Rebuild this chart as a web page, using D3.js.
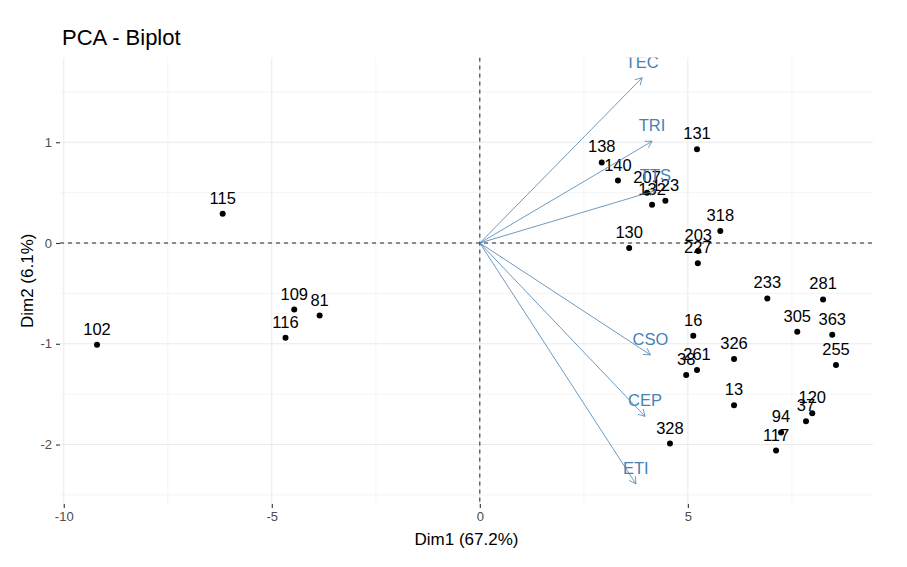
<!DOCTYPE html>
<html>
<head>
<meta charset="utf-8">
<script src="https://cdn.jsdelivr.net/npm/d3@7"></script>
<style>
  html, body { margin: 0; padding: 0; background: #fff; }
  svg { display: block; font-family: "Liberation Sans", Arial, sans-serif; }
</style>
</head>
<body>
<svg id="chart" width="907" height="567"></svg>
<script>
// ---- Data ----
const indNames = ["102","115","109","81","116","138","140","207","132","123","131","130","318","203","227",
                  "16","326","38","261","13","328","120","37","94","117","233","281","305","363","255"];
const indX = [-9.20,-6.18,-4.46,-3.85,-4.67,2.93,3.32,4.02,4.14,4.46,5.22,3.59,5.78,5.25,5.24,
              5.13,6.11,4.96,5.22,6.11,4.57,7.99,7.84,7.24,7.12,6.91,8.25,7.63,8.47,8.56];
const indY = [-1.01,0.29,-0.66,-0.72,-0.94,0.80,0.62,0.50,0.38,0.42,0.93,-0.05,0.12,-0.08,-0.20,
              -0.92,-1.15,-1.31,-1.26,-1.61,-1.99,-1.69,-1.77,-1.88,-2.06,-0.55,-0.56,-0.88,-0.91,-1.21];

const varNames = ["TEC","TRI","TTS","CSO","CEP","ETI"];
const varX = [3.90, 4.14, 4.22, 4.10, 3.97, 3.75];
const varY = [1.64, 1.01, 0.52, -1.11, -1.72, -2.39];

const xTicks = [-10, -5, 0, 5];
const yTicks = [-2, -1, 0, 1];
const xMinor = [-7.5, -2.5, 2.5, 7.5];
const yMinor = [-2.5, -1.5, -0.5, 0.5, 1.5];

const titleText = "PCA - Biplot";
const xLabel = "Dim1 (67.2%)";
const yLabel = "Dim2 (6.1%)";

// ---- Layout ----
const svg = d3.select("#chart");
const P = { left: 60, right: 873, top: 57.6, bottom: 504 };
const x = d3.scaleLinear().domain([-10.09, 9.45]).range([P.left, P.right]);
const y = d3.scaleLinear().domain([-2.59, 1.84]).range([P.bottom, P.top]);

svg.append("defs").append("clipPath").attr("id", "panel")
  .append("rect").attr("x", P.left).attr("y", P.top)
  .attr("width", P.right - P.left).attr("height", P.bottom - P.top);

const grid = svg.append("g");
const gridColor = "#EBEBEB";
// minor
grid.selectAll(".xm").data(xMinor).join("line")
  .attr("x1", d => x(d)).attr("x2", d => x(d)).attr("y1", P.top).attr("y2", P.bottom)
  .attr("stroke", gridColor).attr("stroke-width", 0.55);
grid.selectAll(".ym").data(yMinor).join("line")
  .attr("y1", d => y(d)).attr("y2", d => y(d)).attr("x1", P.left).attr("x2", P.right)
  .attr("stroke", gridColor).attr("stroke-width", 0.55);
// major
grid.selectAll(".xM").data(xTicks).join("line")
  .attr("x1", d => x(d)).attr("x2", d => x(d)).attr("y1", P.top).attr("y2", P.bottom)
  .attr("stroke", gridColor).attr("stroke-width", 1.1);
grid.selectAll(".yM").data(yTicks).join("line")
  .attr("y1", d => y(d)).attr("y2", d => y(d)).attr("x1", P.left).attr("x2", P.right)
  .attr("stroke", gridColor).attr("stroke-width", 1.1);

// axes (ticks + labels)
const xAxis = d3.axisBottom(x).tickValues(xTicks).tickSize(4).tickPadding(4).tickFormat(d3.format("d"));
const yAxis = d3.axisLeft(y).tickValues(yTicks).tickSize(4).tickPadding(4).tickFormat(d3.format("d"));
const gx = svg.append("g").attr("transform", `translate(0,${P.bottom})`).call(xAxis);
const gy = svg.append("g").attr("transform", `translate(${P.left},0)`).call(yAxis);
[gx, gy].forEach(g => {
  g.select(".domain").remove();
  g.selectAll(".tick line").attr("stroke", "#333333").attr("stroke-width", 1.1);
  g.selectAll(".tick text").attr("fill", "#4D4D4D").style("font-size", "13px")
    .style("font-family", "'Liberation Sans', Arial, sans-serif");
});
gy.selectAll(".tick text").text(d => d < 0 ? "-" + Math.abs(d) : d);
gx.selectAll(".tick text").text(d => d < 0 ? "-" + Math.abs(d) : d);

const panel = svg.append("g").attr("clip-path", "url(#panel)");

// reference lines
panel.append("line").attr("x1", P.left).attr("x2", P.right).attr("y1", y(0)).attr("y2", y(0))
  .attr("stroke", "#222").attr("stroke-width", 1).attr("stroke-dasharray", "4,4");
panel.append("line").attr("y1", P.top).attr("y2", P.bottom).attr("x1", x(0)).attr("x2", x(0))
  .attr("stroke", "#222").attr("stroke-width", 1).attr("stroke-dasharray", "4,4");

// individuals
const inds = indNames.map((n, i) => ({ n, x: indX[i], y: indY[i] }));
panel.selectAll(".pt").data(inds).join("circle")
  .attr("cx", d => x(d.x)).attr("cy", d => y(d.y)).attr("r", 3).attr("fill", "#000");
panel.selectAll(".lbl").data(inds).join("text")
  .attr("x", d => x(d.x)).attr("y", d => y(d.y) - 10)
  .attr("text-anchor", "middle").style("font-size", "16.5px").attr("fill", "#000")
  .text(d => d.n);

// variables
const vars = varNames.map((n, i) => ({ n, x: varX[i], y: varY[i] }));
const steel = "#4682B4";
const headLen = 7.5, headAng = Math.PI / 6;
panel.selectAll(".arr").data(vars).join("path")
  .attr("fill", "none").attr("stroke", steel).attr("stroke-width", 0.8)
  .attr("d", d => {
    const x0 = x(0), y0 = y(0), x1 = x(d.x), y1 = y(d.y);
    const a = Math.atan2(y1 - y0, x1 - x0);
    const ax = x1 - headLen * Math.cos(a - headAng), ay = y1 - headLen * Math.sin(a - headAng);
    const bx = x1 - headLen * Math.cos(a + headAng), by = y1 - headLen * Math.sin(a + headAng);
    return `M${x0},${y0}L${x1},${y1}M${ax},${ay}L${x1},${y1}L${bx},${by}`;
  });
panel.selectAll(".vl").data(vars).join("text")
  .attr("x", d => x(d.x)).attr("y", d => y(d.y) - 10)
  .attr("text-anchor", "middle").style("font-size", "16.5px").attr("fill", steel)
  .text(d => d.n);

// titles
svg.append("text").attr("x", P.left + 2).attr("y", 45).style("font-size", "22px").attr("fill", "#000")
  .text(titleText);
svg.append("text").attr("x", (P.left + P.right) / 2).attr("y", 545).attr("text-anchor", "middle")
  .style("font-size", "17px").attr("fill", "#000").text(xLabel);
svg.append("text").attr("transform", `translate(33,${(P.top + P.bottom) / 2}) rotate(-90)`)
  .attr("text-anchor", "middle").style("font-size", "17px").attr("fill", "#000").text(yLabel);
</script>
</body>
</html>
